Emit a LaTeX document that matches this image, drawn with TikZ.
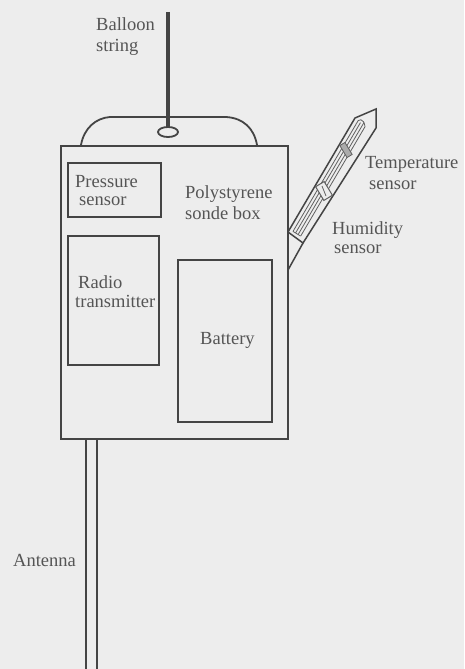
\documentclass[tikz,border=0pt]{standalone}
\usepackage{fontspec}
\usetikzlibrary{calc}
\setmainfont{Liberation Serif}
\definecolor{paper}{HTML}{EDEDED}
\definecolor{ink}{HTML}{444444}
\definecolor{lbl}{HTML}{555555}
\tikzset{
  px/.style={x=1pt,y=-1pt},
  boxpart/.style={draw=ink,line width=1.5pt,fill=none,inner sep=0pt},
  lab/.style={text=lbl,font=\fontsize{18.5}{21}\selectfont,align=left,inner sep=0pt},
  ln/.style={draw=ink,line width=1.5pt},
  thin part/.style={draw=ink!85,line width=0.8pt}
}
\begin{document}
\begin{tikzpicture}[px]
\path[use as bounding box,fill=paper] (0,0) rectangle (464,669);
% string and handle
\coordinate (s1) at (168,12);
\coordinate (s2) at (168,127);
\draw[draw=ink,line width=4pt] (s1) -- (s2);
\draw[ln,line width=1.8pt] (168,132) ellipse (10pt and 5pt);
\draw[ln,line width=1.8pt] (81,145) .. controls (84,128) and (96,118) .. (110,117) -- (226,117) .. controls (243,118) and (254,128) .. (257,145);
% box
\node[boxpart,line width=2pt,minimum width=227pt,minimum height=293pt,anchor=north west] (box) at (60,145) {};
\node[boxpart,minimum width=93pt,minimum height=54pt,anchor=north west] (pressure) at (67,162) {};
\node[boxpart,minimum width=91pt,minimum height=129pt,anchor=north west] (radio) at (67,235) {};
\node[boxpart,minimum width=94pt,minimum height=162pt,anchor=north west] (battery) at (177,259) {};
% antenna
\coordinate (a1) at (86,669);
\coordinate (a2) at (97,669);
\draw[ln,line width=2.2pt] (86,438) -- (a1);
\draw[ln,line width=1.6pt] (97,438) -- (a2);
% sensor
\draw[ln] (288,232) -- (355,118) -- (376,109) -- (376,128) -- (303,243) -- cycle;
\coordinate (w1) at (288,270);
\draw[ln] (w1) -- (303,243);
\foreach \d/\e in {4/128,7/131,10/133,13/130}{
  \draw[thin part] ($(288,232)+(\d*0.862,\d*0.507)+(0.507*3,-0.862*3)$) -- ($(288,232)+(\d*0.862,\d*0.507)+(0.507*\e,-0.862*\e)$);
}
\draw[thin part] (293,231.4) -- (300.5,236);
\draw[thin part] (356.3,123.7) .. controls (358,118) and (364,118) .. (365,126.6);
\draw[thin part,fill=ink!45,rotate around={-59:(346,150)}] (339,147) rectangle (353,153);
\draw[thin part,line width=1pt,fill=paper,rotate around={-59:(324,191)}] (316,186) rectangle (332,196);
\draw[thin part] (322,186) -- (326,196);
% labels
\node[lab,anchor=west] (balloon) at (96,37) {Balloon\\string};
\node[lab,anchor=west,font=\fontsize{18.5}{17.5}\selectfont] (pressl) at (75,190.5) {Pressure\\\hspace*{4pt}sensor};
\node[lab,anchor=west] (poly) at (185,203) {Polystyrene\\sonde box};
\node[lab,anchor=west,font=\fontsize{18.5}{19}\selectfont] (radiol) at (75,292) {\hspace*{3pt}Radio\\transmitter};
\node[lab,anchor=west] (batl) at (200,340) {Battery};
\node[lab,anchor=west] (temp) at (365,173) {Temperature\\\hspace*{4pt}sensor};
\node[lab,anchor=west,font=\fontsize{18.5}{19}\selectfont] (hum) at (332,238) {Humidity\\\hspace*{2pt}sensor};
\node[lab,anchor=west] (ant) at (13,560) {Antenna};
\end{tikzpicture}
\end{document}
